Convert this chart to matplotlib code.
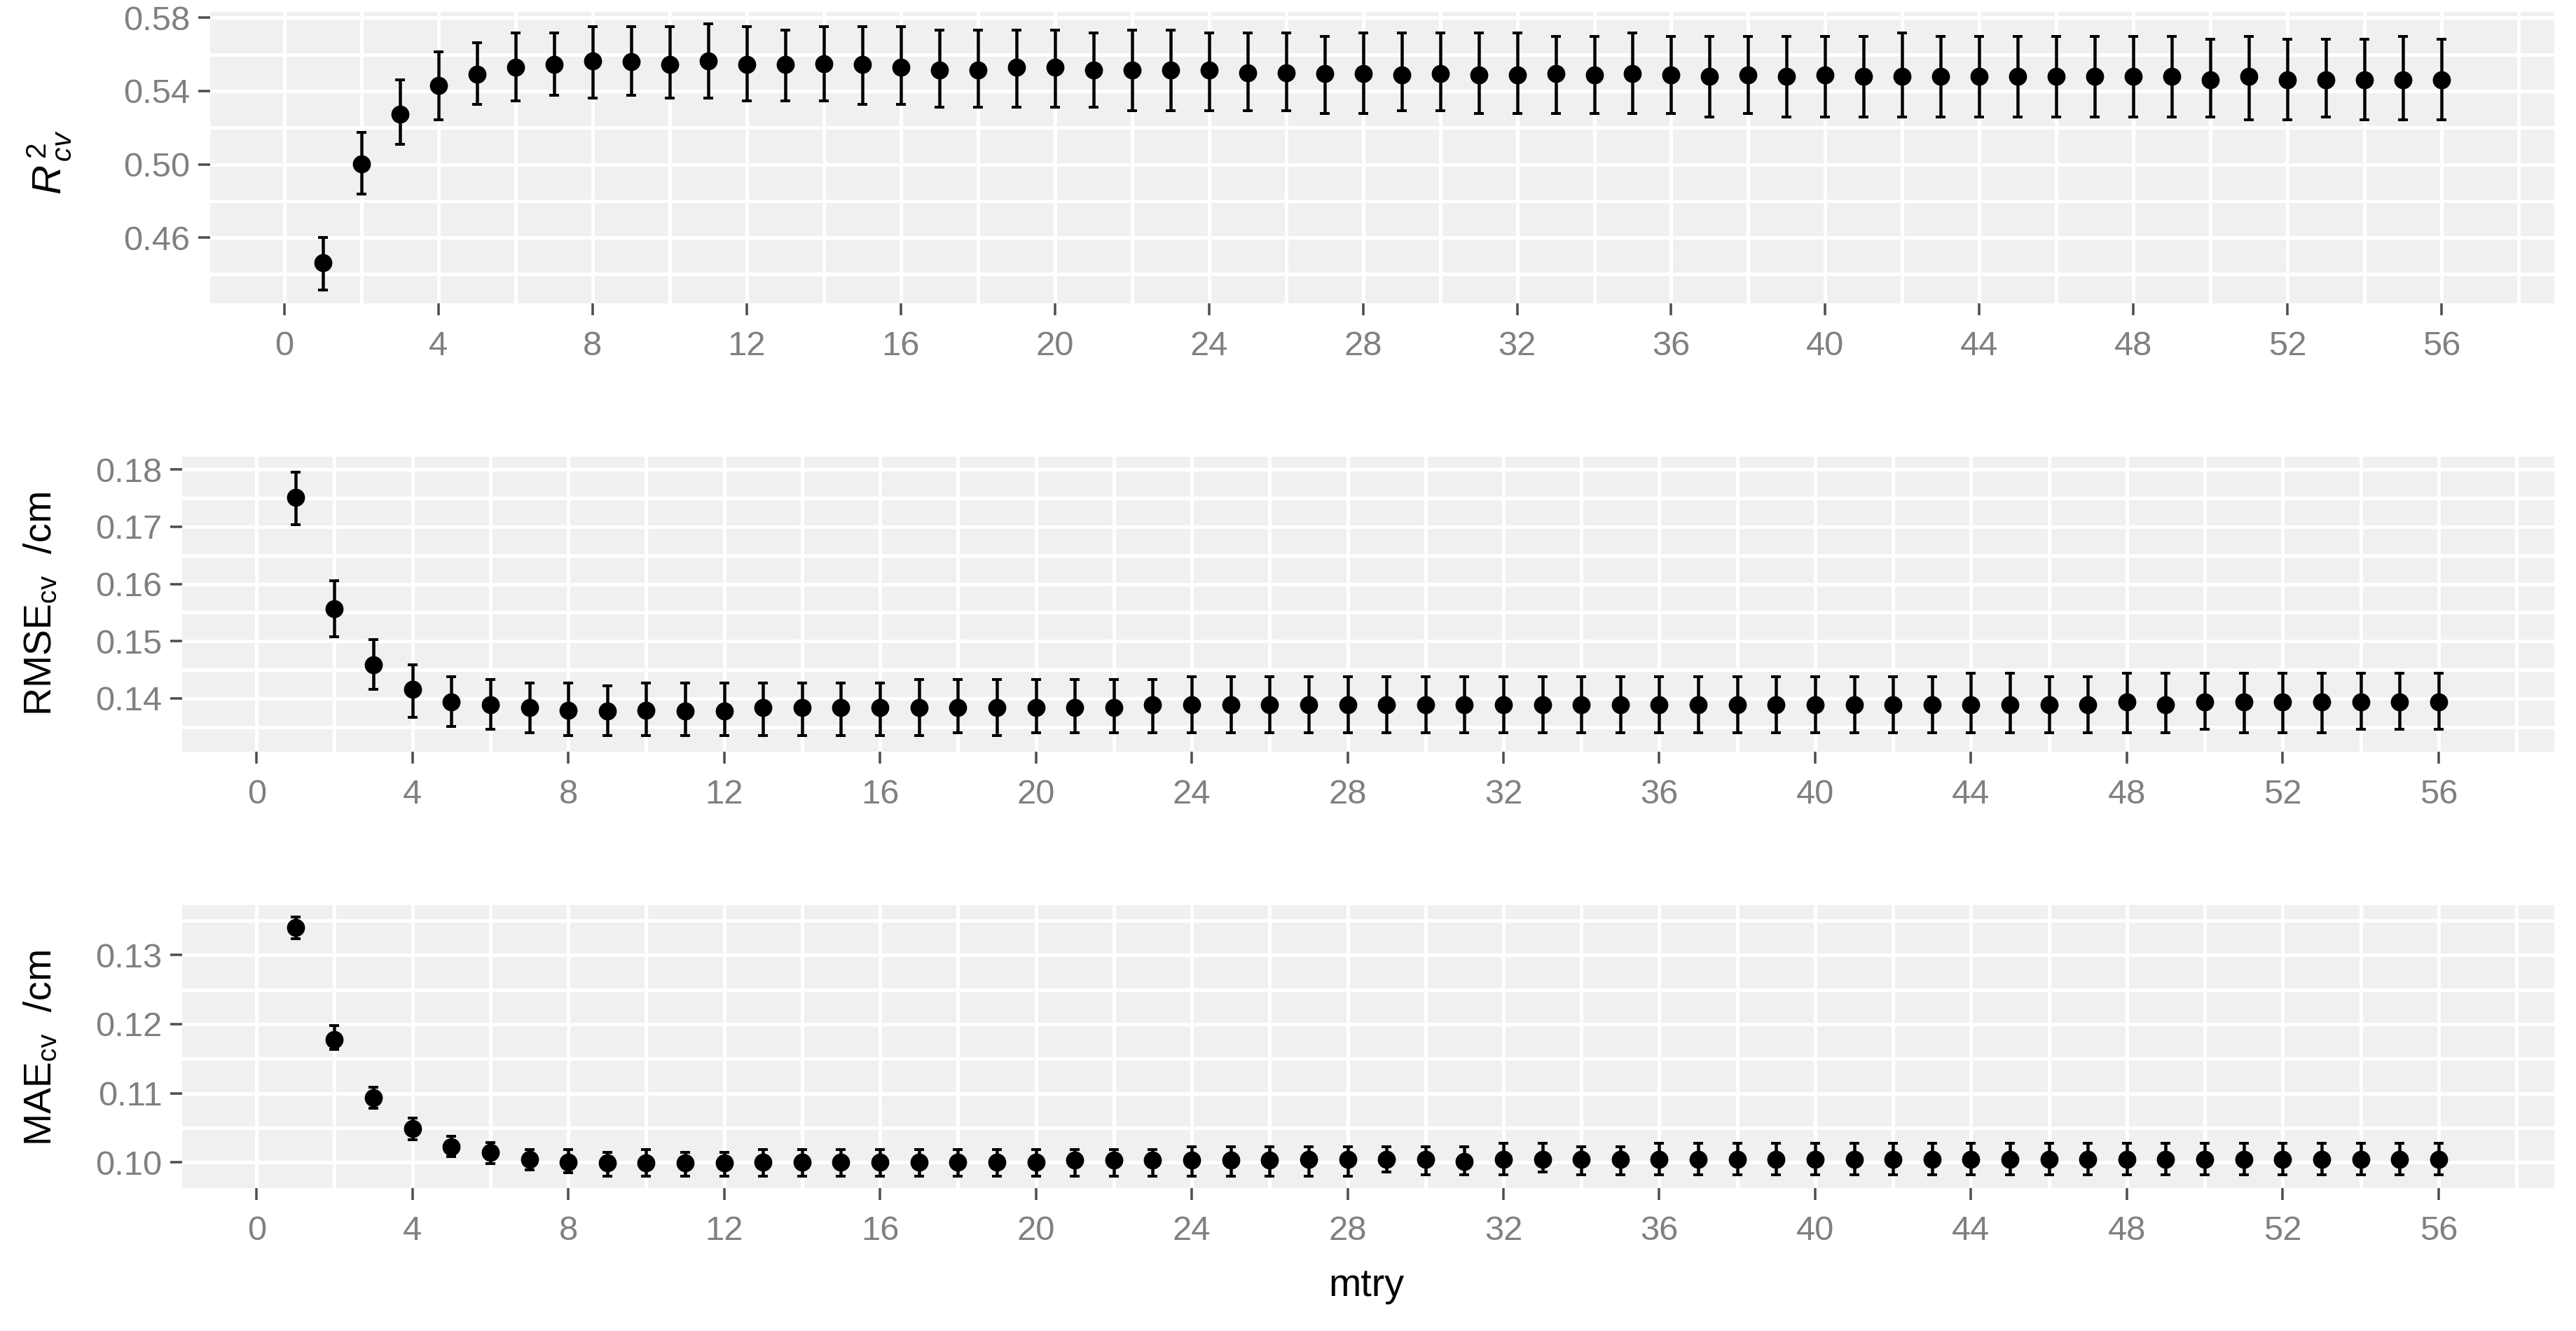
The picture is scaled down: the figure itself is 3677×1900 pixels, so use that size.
import numpy as np
import matplotlib
matplotlib.use("Agg")
import matplotlib.pyplot as plt
from matplotlib.ticker import FixedLocator, FormatStrFormatter

plt.rcParams['font.family'] = ['Liberation Sans', 'DejaVu Sans']
plt.rcParams['mathtext.fontset'] = 'custom'
plt.rcParams['mathtext.rm'] = 'Liberation Sans'
plt.rcParams['mathtext.it'] = 'Liberation Sans:italic'
plt.rcParams['mathtext.bf'] = 'Liberation Sans:bold'

# ---------------- data ----------------
mtry = list(range(1, 57))

r2_mean = [0.4463, 0.5002, 0.5272, 0.5429, 0.5491, 0.5530, 0.5546, 0.5563, 0.5562, 0.5546,
           0.5565, 0.5546, 0.5546, 0.5549, 0.5546, 0.5530, 0.5514, 0.5514, 0.5530, 0.5530,
           0.5514, 0.5514, 0.5514, 0.5514, 0.5498, 0.5498, 0.5495, 0.5495, 0.5489, 0.5495,
           0.5489, 0.5489, 0.5495, 0.5489, 0.5495, 0.5489, 0.5479, 0.5489, 0.5479, 0.5489,
           0.5479, 0.5479, 0.5479, 0.5479, 0.5479, 0.5479, 0.5479, 0.5479, 0.5479, 0.5461,
           0.5479, 0.5461, 0.5461, 0.5461, 0.5461, 0.5461]
r2_upper = [0.4601, 0.5175, 0.5462, 0.5615, 0.5665, 0.5716, 0.5716, 0.5750, 0.5750, 0.5750,
            0.5767, 0.5750, 0.5734, 0.5750, 0.5750, 0.5750, 0.5734, 0.5734, 0.5734, 0.5734,
            0.5716, 0.5734, 0.5734, 0.5716, 0.5716, 0.5716, 0.5699, 0.5716, 0.5716, 0.5716,
            0.5716, 0.5716, 0.5699, 0.5699, 0.5716, 0.5699, 0.5699, 0.5699, 0.5699, 0.5699,
            0.5699, 0.5716, 0.5699, 0.5699, 0.5699, 0.5699, 0.5699, 0.5699, 0.5699, 0.5681,
            0.5699, 0.5681, 0.5681, 0.5681, 0.5699, 0.5681]
r2_lower = [0.4315, 0.4839, 0.5108, 0.5244, 0.5327, 0.5345, 0.5378, 0.5360, 0.5378, 0.5360,
            0.5360, 0.5345, 0.5345, 0.5345, 0.5327, 0.5327, 0.5310, 0.5310, 0.5310, 0.5310,
            0.5310, 0.5294, 0.5294, 0.5294, 0.5294, 0.5294, 0.5276, 0.5276, 0.5294, 0.5294,
            0.5276, 0.5276, 0.5276, 0.5276, 0.5276, 0.5276, 0.5259, 0.5276, 0.5259, 0.5259,
            0.5259, 0.5259, 0.5259, 0.5259, 0.5259, 0.5259, 0.5259, 0.5259, 0.5259, 0.5259,
            0.5243, 0.5243, 0.5259, 0.5243, 0.5243, 0.5243]

rmse_mean = [0.1751, 0.1557, 0.1459, 0.1416, 0.1394, 0.1389, 0.1384, 0.1379, 0.1378, 0.1379,
             0.1378, 0.1378, 0.1384, 0.1384, 0.1384, 0.1384, 0.1384, 0.1384, 0.1384, 0.1384,
             0.1384, 0.1384, 0.1389, 0.1389, 0.1389, 0.1389, 0.1389, 0.1389, 0.1389, 0.1389,
             0.1389, 0.1389, 0.1389, 0.1389, 0.1389, 0.1389, 0.1389, 0.1389, 0.1389, 0.1389,
             0.1389, 0.1389, 0.1389, 0.1389, 0.1389, 0.1389, 0.1389, 0.1394, 0.1389, 0.1394,
             0.1394, 0.1394, 0.1394, 0.1394, 0.1394, 0.1394]
rmse_upper = [0.1796, 0.1605, 0.1503, 0.1459, 0.1438, 0.1433, 0.1427, 0.1427, 0.1422, 0.1427,
              0.1427, 0.1427, 0.1427, 0.1427, 0.1427, 0.1427, 0.1433, 0.1433, 0.1433, 0.1433,
              0.1433, 0.1433, 0.1433, 0.1438, 0.1438, 0.1438, 0.1438, 0.1438, 0.1438, 0.1438,
              0.1438, 0.1438, 0.1438, 0.1438, 0.1438, 0.1438, 0.1438, 0.1438, 0.1438, 0.1438,
              0.1438, 0.1438, 0.1438, 0.1444, 0.1444, 0.1438, 0.1438, 0.1444, 0.1444, 0.1444,
              0.1444, 0.1444, 0.1444, 0.1444, 0.1444, 0.1444]
rmse_lower = [0.1704, 0.1508, 0.1416, 0.1367, 0.1351, 0.1346, 0.1340, 0.1335, 0.1335, 0.1335,
              0.1335, 0.1335, 0.1335, 0.1335, 0.1335, 0.1335, 0.1335, 0.1340, 0.1335, 0.1340,
              0.1340, 0.1340, 0.1340, 0.1340, 0.1340, 0.1340, 0.1340, 0.1340, 0.1340, 0.1340,
              0.1340, 0.1340, 0.1340, 0.1340, 0.1340, 0.1340, 0.1340, 0.1340, 0.1340, 0.1340,
              0.1340, 0.1340, 0.1340, 0.1340, 0.1340, 0.1340, 0.1340, 0.1340, 0.1340, 0.1346,
              0.1340, 0.1340, 0.1340, 0.1346, 0.1346, 0.1346]

mae_mean = [0.1340, 0.1178, 0.1094, 0.1049, 0.1023, 0.1014, 0.1004, 0.1000, 0.0999, 0.0999,
            0.0999, 0.0999, 0.1000, 0.1000, 0.1000, 0.1000, 0.1000, 0.1000, 0.1000, 0.1000,
            0.1003, 0.1003, 0.1003, 0.1003, 0.1003, 0.1003, 0.1004, 0.1004, 0.1004, 0.1004,
            0.1001, 0.1004, 0.1004, 0.1004, 0.1004, 0.1004, 0.1004, 0.1004, 0.1004, 0.1004,
            0.1004, 0.1004, 0.1004, 0.1004, 0.1004, 0.1004, 0.1004, 0.1004, 0.1004, 0.1004,
            0.1004, 0.1004, 0.1004, 0.1004, 0.1004, 0.1004]
mae_upper = [0.1355, 0.1198, 0.1109, 0.1064, 0.1038, 0.1029, 0.1019, 0.1019, 0.1014, 0.1019,
             0.1014, 0.1014, 0.1019, 0.1019, 0.1019, 0.1019, 0.1019, 0.1019, 0.1019, 0.1019,
             0.1019, 0.1019, 0.1019, 0.1023, 0.1023, 0.1023, 0.1023, 0.1023, 0.1023, 0.1023,
             0.1023, 0.1028, 0.1028, 0.1023, 0.1023, 0.1028, 0.1028, 0.1028, 0.1028, 0.1028,
             0.1028, 0.1028, 0.1028, 0.1028, 0.1028, 0.1028, 0.1028, 0.1028, 0.1028, 0.1028,
             0.1028, 0.1028, 0.1028, 0.1028, 0.1028, 0.1028]
mae_lower = [0.1324, 0.1163, 0.1078, 0.1033, 0.1008, 0.0998, 0.0989, 0.0985, 0.0980, 0.0980,
             0.0980, 0.0980, 0.0980, 0.0980, 0.0980, 0.0980, 0.0980, 0.0980, 0.0980, 0.0980,
             0.0980, 0.0980, 0.0980, 0.0980, 0.0980, 0.0980, 0.0980, 0.0980, 0.0986, 0.0982,
             0.0982, 0.0982, 0.0986, 0.0982, 0.0982, 0.0982, 0.0982, 0.0982, 0.0982, 0.0982,
             0.0982, 0.0982, 0.0982, 0.0982, 0.0982, 0.0982, 0.0982, 0.0982, 0.0982, 0.0982,
             0.0982, 0.0982, 0.0982, 0.0982, 0.0982, 0.0982]

x_major = list(range(0, 57, 4))
x_minor = list(range(-2, 60, 4))

r2_major = [0.46, 0.50, 0.54, 0.58]
r2_minor = [0.44, 0.48, 0.52, 0.56]
rmse_major = [0.14, 0.15, 0.16, 0.17, 0.18]
rmse_minor = [0.135, 0.145, 0.155, 0.165, 0.175]
mae_major = [0.10, 0.11, 0.12, 0.13]
mae_minor = [0.095, 0.105, 0.115, 0.125, 0.135]

# ---------------- figure ----------------
W, H = 3677, 1900
DPI = 200
fig = plt.figure(figsize=(W / DPI, H / DPI), dpi=DPI)
fig.patch.set_facecolor('white')

def px2pt(p):
    return p * 72.0 / DPI

def add_ax(left, top, right, bottom):
    return fig.add_axes([left / W, 1 - bottom / H, (right - left) / W, (bottom - top) / H])

PANEL = '#F0F0F0'
TICKTXT = '#808080'
TICKCOL = '#4D4D4D'

def style(ax, xlim, ylim, ymaj, ymin):
    ax.set_facecolor(PANEL)
    for s in ax.spines.values():
        s.set_visible(False)
    ax.set_xlim(*xlim)
    ax.set_ylim(*ylim)
    ax.xaxis.set_major_locator(FixedLocator(x_major))
    ax.xaxis.set_minor_locator(FixedLocator(x_minor))
    ax.yaxis.set_major_locator(FixedLocator(ymaj))
    ax.yaxis.set_minor_locator(FixedLocator(ymin))
    ax.yaxis.set_major_formatter(FormatStrFormatter('%.2f'))
    ax.grid(which='both', color='white', linewidth=px2pt(5))
    ax.set_axisbelow(True)
    ax.tick_params(which='major', direction='out', length=px2pt(17), width=px2pt(3.5),
                   color=TICKCOL, labelcolor=TICKTXT, labelsize=17.6)
    ax.tick_params(axis='x', which='major', pad=px2pt(22))
    ax.tick_params(axis='y', which='major', pad=px2pt(11))
    ax.tick_params(which='minor', length=0)

def draw(ax, mean, lo, hi):
    mean = np.array(mean); lo = np.array(lo); hi = np.array(hi)
    ax.errorbar(mtry, mean, yerr=[mean - lo, hi - mean], fmt='o', color='black',
                ms=px2pt(23), elinewidth=px2pt(4.5), capsize=px2pt(7), capthick=px2pt(4),
                zorder=3)

ax1 = add_ax(299.5, 16.7, 3646, 432.7)
style(ax1, (-1.93, 58.92), (0.4242, 0.5833), r2_major, r2_minor)
draw(ax1, r2_mean, r2_lower, r2_upper)

ax2 = add_ax(259.7, 651.7, 3646, 1072.7)
style(ax2, (-1.915, 58.97), (0.13069, 0.18228), rmse_major, rmse_minor)
draw(ax2, rmse_mean, rmse_lower, rmse_upper)

ax3 = add_ax(259.7, 1291.7, 3646, 1695.7)
style(ax3, (-1.915, 58.97), (0.09631, 0.13726), mae_major, mae_minor)
draw(ax3, mae_mean, mae_lower, mae_upper)

def ftext(xp, yp, s, **kw):
    fig.text(xp / W, 1 - yp / H, s, **kw)

ftext(70, 232, r'$R^{\,2}_{\,cv}$', rotation=90, ha='center', va='center', fontsize=21, color='black')
ftext(59, 862, r'RMSE$_{\mathrm{cv}}$  /cm', rotation=90, ha='center', va='center', fontsize=20, color='black')
ftext(59, 1496, r'MAE$_{\mathrm{cv}}$  /cm', rotation=90, ha='center', va='center', fontsize=20, color='black')
ftext(1950, 1836, 'mtry', ha='center', va='center', fontsize=20, color='black')

fig.savefig('out.png', dpi=DPI, facecolor='white')
